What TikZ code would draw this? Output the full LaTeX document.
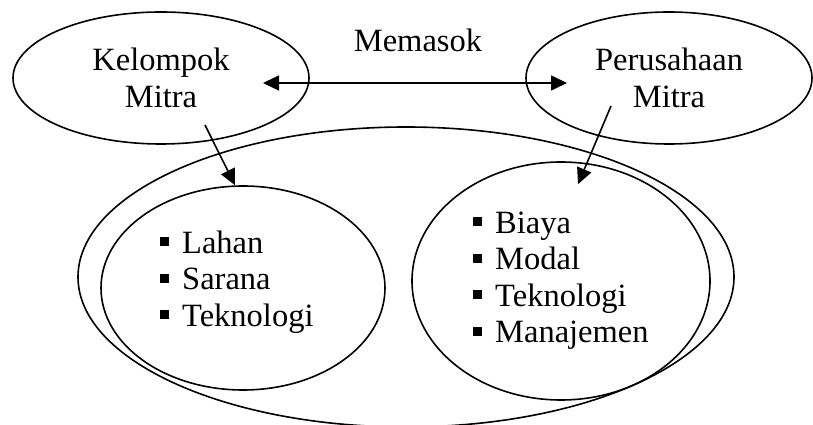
\documentclass[tikz,border=0pt]{standalone}
\usepackage{fontspec}
\setmainfont{Liberation Serif}
\usetikzlibrary{shapes.geometric, arrows.meta, positioning}

\newcommand{\sqbul}{\rule[7pt]{9pt}{9pt}\hspace{13pt}}

\begin{document}
\begin{tikzpicture}[
  x=1pt, y=1pt,
  % Node styles
  partynode/.style={
    ellipse, draw, line width=1.6pt, inner sep=0pt,
    minimum width=296pt, minimum height=132pt,
    align=center, font=\fontsize{32.5pt}{37pt}\selectfont
  },
  groupnode/.style={
    ellipse, draw, line width=1.6pt, inner sep=0pt
  },
  listnode/.style={
    align=left, inner sep=0pt, anchor=west,
    font=\fontsize{32.5pt}{36.5pt}\selectfont
  },
  labelnode/.style={
    anchor=base, inner sep=0pt,
    font=\fontsize{32.5pt}{37pt}\selectfont
  },
  % Arrow styles
  arr/.style={-{Triangle[length=16pt, width=15pt]}, line width=1.6pt},
  dblarr/.style={{Triangle[length=16pt, width=15pt]}-{Triangle[length=16pt, width=15pt]}, line width=1.6pt}
]
\useasboundingbox (0,0) rectangle (813,425);
\clip (0,0) rectangle (813,425);

%% ── Outer ellipse (both partners together) ───────────────────
\node[groupnode, minimum width=656pt, minimum height=300pt] (wadah) at (406,148) {};

%% ── Partner nodes ────────────────────────────────────────────
\node[partynode]                         (kelompok)   at (161,347) {Kelompok\\Mitra};
\node[partynode, minimum width=286pt]    (perusahaan) at (669,347) {Perusahaan\\Mitra};
\node[labelnode]                         (memasok)    at (418,373) {Memasok};

%% ── Contribution ellipses ────────────────────────────────────
\node[groupnode, minimum width=284pt, minimum height=204pt] (lahan) at (243,137) {};
\node[groupnode, minimum width=298pt, minimum height=238pt] (biaya) at (561,144) {};

\node[listnode] (lahanTxt) at ([shift={(-83pt,6pt)}]lahan.center)
  {\sqbul Lahan\\ \sqbul Sarana\\ \sqbul Teknologi};
\node[listnode] (biayaTxt) at ([shift={(-88pt,0.5pt)}]biaya.center)
  {\sqbul Biaya\\ \sqbul Modal\\ \sqbul Teknologi\\ \sqbul Manajemen};

%% ── Arrow: Kelompok <-> Perusahaan ───────────────────────────
\draw[dblarr] ([shift={(102pt,-5pt)}]kelompok.center) -- ([shift={(-102pt,-5pt)}]perusahaan.center);

%% ── Arrows: partners -> contributions ────────────────────────
\coordinate (kelFoot) at ([shift={(44pt,-47pt)}]kelompok.center);
\coordinate (perFoot) at ([shift={(-58pt,-28pt)}]perusahaan.center);
\draw[arr] (kelFoot) -- ([xshift=-8pt]lahan.north);
\draw[arr] (perFoot) -- ([shift={(17pt,-23pt)}]biaya.north);

\end{tikzpicture}
\end{document}
